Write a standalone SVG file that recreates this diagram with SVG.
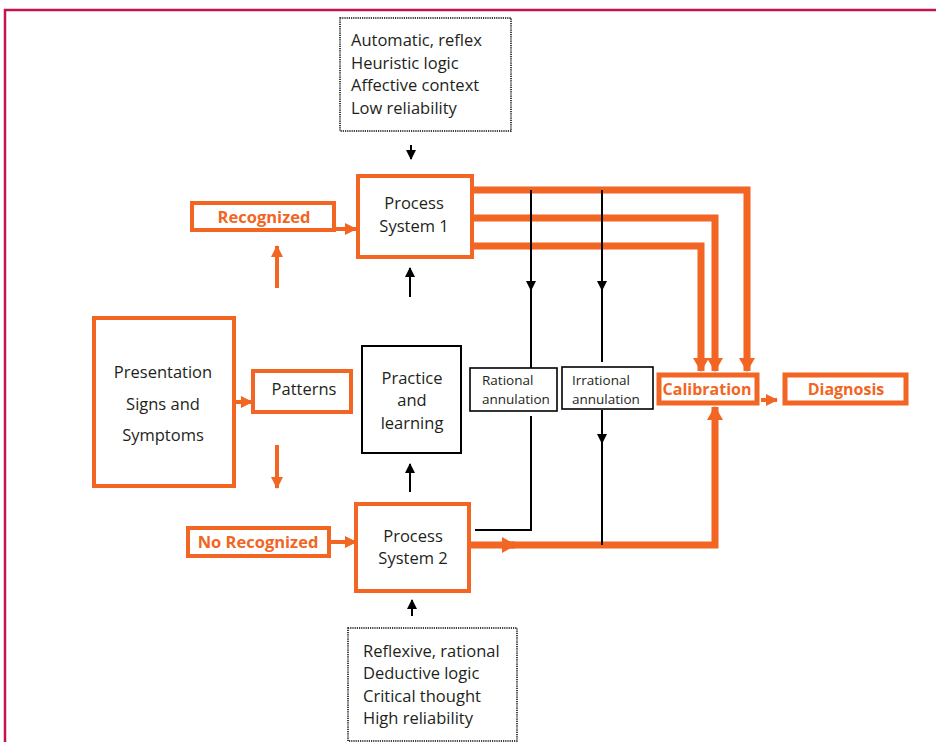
<svg xmlns="http://www.w3.org/2000/svg" width="936" height="742" viewBox="0 0 936 742">
<style>
text{font-family:"Open Sans","Noto Sans",sans-serif;fill:#231f20}
.t{font-size:16.5px}
.s{font-size:13.5px}
.b{font-size:16.5px;font-weight:bold;fill:#f26522}
.ob{fill:#fff;stroke:#f26522;stroke-width:4}
.obt{fill:#fff;stroke:#f26522;stroke-width:5}
.kb{fill:#fff;stroke:#000;stroke-width:2}
.kt{fill:#fff;stroke:#000;stroke-width:1.6}
.dot{fill:#fff;stroke:#000;stroke-width:1.5;stroke-dasharray:1.2 1}
.oa{fill:none;stroke:#f26522;stroke-width:4}
.ot{fill:none;stroke:#f26522;stroke-width:7}
.ka{fill:none;stroke:#000;stroke-width:2}
</style>
<defs>
<marker id="oh" markerUnits="userSpaceOnUse" markerWidth="12" markerHeight="12" refX="11" refY="6" orient="auto"><path d="M0,0 L12,6 L0,12 z" fill="#f26522"/></marker>
<marker id="ohb" markerUnits="userSpaceOnUse" markerWidth="14" markerHeight="16" refX="13" refY="8" orient="auto"><path d="M0,0 L14,8 L0,16 z" fill="#f26522"/></marker>
<marker id="kh" markerUnits="userSpaceOnUse" markerWidth="10" markerHeight="10" refX="9" refY="5" orient="auto"><path d="M0,0 L10,5 L0,10 z" fill="#000"/></marker>
</defs>
<rect x="5" y="10" width="960" height="760" fill="none" stroke="#c2164b" stroke-width="2.5"/>

<g id="connectors">
<path class="oa" d="M335,229 L356,229" marker-end="url(#oh)"/>
<path class="oa" d="M277,288 L277,246" marker-end="url(#oh)"/>
<path class="oa" d="M236,402 L252,402" marker-end="url(#oh)"/>
<path class="oa" d="M277,445 L277,488" marker-end="url(#oh)"/>
<path class="oa" d="M331,542 L356,542" marker-end="url(#oh)"/>
<path class="ka" d="M411,145 L411,159" marker-end="url(#kh)"/>
<path class="ka" d="M410,297 L410,268" marker-end="url(#kh)"/>
<path class="ka" d="M410,492 L410,464" marker-end="url(#kh)"/>
<path class="ka" d="M412,616 L412,600" marker-end="url(#kh)"/>
<path class="ot" d="M473,190 L747,190 L747,371" marker-end="url(#ohb)"/>
<path class="ot" d="M473,218 L715,218 L715,371" marker-end="url(#ohb)"/>
<path class="ot" d="M473,246 L701,246 L701,371" marker-end="url(#ohb)"/>
<path class="ot" d="M470,545 L515,545" marker-end="url(#ohb)"/>
<path class="ot" d="M505,545 L715,545 L715,407" marker-end="url(#ohb)"/>
<path class="oa" d="M761,400 L777,400" marker-end="url(#oh)"/>
<path class="ka" d="M531,190 L531,290" marker-end="url(#kh)"/>
<path class="ka" d="M531,285 L531,368"/>
<path class="ka" d="M602,190 L602,290" marker-end="url(#kh)"/>
<path class="ka" d="M602,285 L602,362"/>
<path class="ka" d="M531,416 L531,530 L475,530"/>
<path class="ka" d="M602,410 L602,443" marker-end="url(#kh)"/>
<path class="ka" d="M602,438 L602,545"/>
</g>

<g id="top-notes">
<rect class="dot" x="340" y="18" width="171" height="113"/>
<text class="t" x="351" y="46">Automatic, reflex</text>
<text class="t" x="351" y="69">Heuristic logic</text>
<text class="t" x="351" y="91">Affective context</text>
<text class="t" x="351" y="114">Low reliability</text>
</g>
<g id="ps1">
<rect class="ob" x="358" y="176" width="114" height="81"/>
<text class="t" x="414" y="209" text-anchor="middle">Process</text>
<text class="t" x="414" y="232" text-anchor="middle">System 1</text>
</g>
<g id="recognized">
<rect class="ob" x="192" y="203" width="142" height="27"/>
<text class="b" x="264" y="223" text-anchor="middle">Recognized</text>
</g>
<g id="presentation">
<rect class="ob" x="94" y="318" width="140" height="168"/>
<text class="t" x="163" y="378" text-anchor="middle">Presentation</text>
<text class="t" x="163" y="410" text-anchor="middle">Signs and</text>
<text class="t" x="163" y="441" text-anchor="middle">Symptoms</text>
</g>
<g id="patterns">
<rect class="ob" x="253" y="371" width="98" height="41"/>
<text class="t" x="304" y="395" text-anchor="middle">Patterns</text>
</g>
<g id="practice">
<rect class="kb" x="362" y="346" width="99" height="107"/>
<text class="t" x="412" y="384" text-anchor="middle">Practice</text>
<text class="t" x="412" y="406" text-anchor="middle">and</text>
<text class="t" x="412" y="429" text-anchor="middle">learning</text>
</g>
<g id="rational">
<rect class="kt" x="470" y="368" width="87" height="43"/>
<text class="s" x="482" y="385">Rational</text>
<text class="s" x="482" y="404">annulation</text>
</g>
<g id="irrational">
<rect class="kt" x="562" y="367" width="91" height="42"/>
<text class="s" x="572" y="385">Irrational</text>
<text class="s" x="572" y="404">annulation</text>
</g>
<g id="calibration">
<rect class="obt" x="659" y="375" width="98" height="28"/>
<text class="b" x="707" y="395" text-anchor="middle" style="font-size:16px">Calibration</text>
</g>
<g id="diagnosis">
<rect class="obt" x="785" y="375" width="121" height="28"/>
<text class="b" x="846" y="395" text-anchor="middle" style="font-size:16px">Diagnosis</text>
</g>
<g id="norecognized">
<rect class="ob" x="188" y="528" width="141" height="28"/>
<text class="b" x="258" y="548" text-anchor="middle">No Recognized</text>
</g>
<g id="ps2">
<rect class="ob" x="356" y="504" width="113" height="87"/>
<text class="t" x="413" y="542" text-anchor="middle">Process</text>
<text class="t" x="413" y="564" text-anchor="middle">System 2</text>
</g>
<g id="bottom-notes">
<rect class="dot" x="348" y="628" width="169" height="113"/>
<text class="t" x="363" y="657">Reflexive, rational</text>
<text class="t" x="363" y="679">Deductive logic</text>
<text class="t" x="363" y="702">Critical thought</text>
<text class="t" x="363" y="724">High reliability</text>
</g>
</svg>
